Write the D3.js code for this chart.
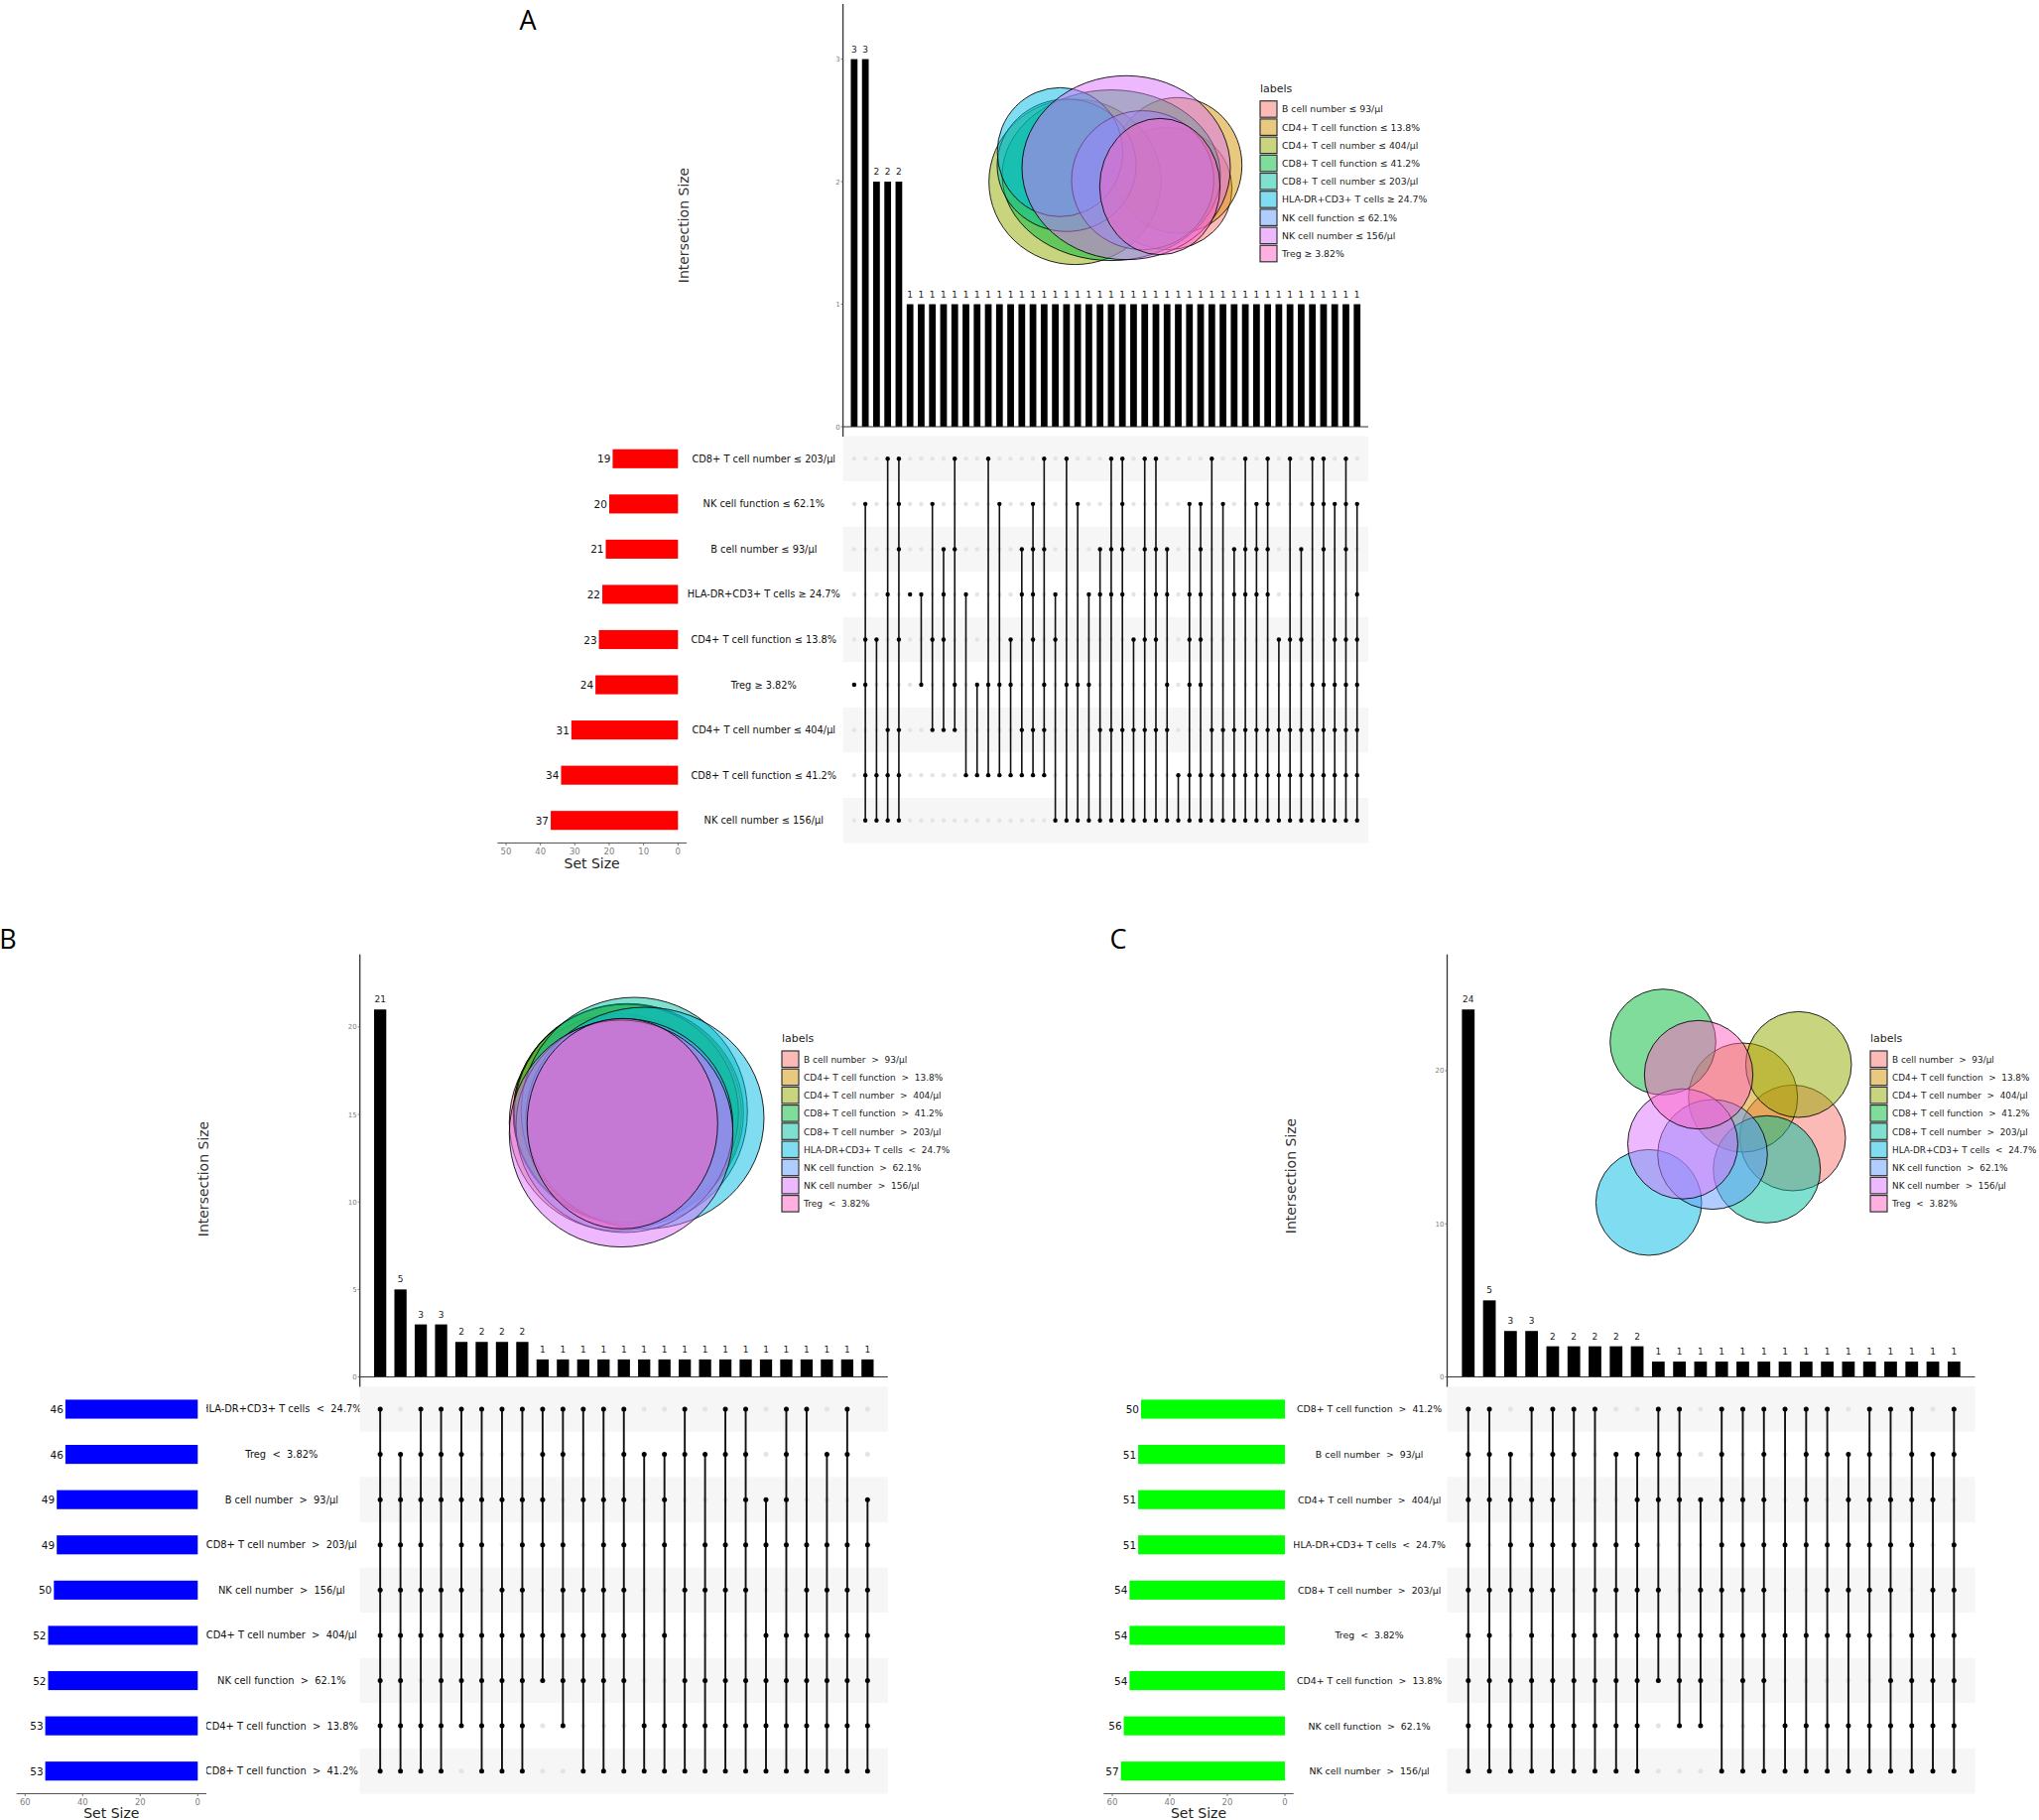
<!DOCTYPE html>
<html>
<head>
<meta charset="utf-8">
<script src="https://cdn.jsdelivr.net/npm/d3@7"></script>
<style>
  body { margin: 0; background: #fff; }
  svg text { font-family: "DejaVu Sans", sans-serif; }
  .pre { white-space: pre; }
</style>
</head>
<body>
<div id="chart"></div>
<script>
// ---------------- data ----------------

// Panel A : matrix rows top -> bottom
const setsA = ["CD8+ T cell number ≤ 203/μl", "NK cell function ≤ 62.1%", "B cell number ≤ 93/μl",
  "HLA-DR+CD3+ T cells ≥ 24.7%", "CD4+ T cell function ≤ 13.8%", "Treg ≥ 3.82%",
  "CD4+ T cell number ≤ 404/μl", "CD8+ T cell function ≤ 41.2%", "NK cell number ≤ 156/μl"]
const sizesA = [19, 20, 21, 22, 23, 24, 31, 34, 37]
const countsA = [3, 3, 2, 2, 2, 1, 1, 1, 1, 1, 1, 1, 1, 1, 1, 1, 1, 1, 1, 1, 1, 1, 1,
  1, 1, 1, 1, 1, 1, 1, 1, 1, 1, 1, 1, 1, 1, 1, 1, 1, 1, 1, 1, 1, 1, 1]
// row indices (into setsA) of each intersection
const membersA = [[5], [1,4,5,7,8], [4,7,8], [0,3,6,7,8], [0,1,2,4,6,7,8], [3], [3,5], [1,4,6],
  [2,3,4,6], [0,2,5,6], [3,7], [5,7], [0,5,7], [1,5,7], [4,5,7], [2,3,6,7], [1,2,3,4,6,7],
  [0,2,5,6,7], [3,4,8], [0,5,8], [1,5,8], [3,5,8], [2,3,6,8], [0,2,3,6,8], [0,1,2,3,6,8],
  [4,6,8], [0,2,4,6,8], [0,2,3,4,6,8], [2,3,5,6,8], [7,8], [1,3,4,5,7,8], [1,2,3,4,5,7,8],
  [0,6,7,8], [1,6,7,8], [2,3,6,7,8], [0,2,3,6,7,8], [1,2,3,6,7,8], [0,1,2,3,6,7,8],
  [4,6,7,8], [0,4,6,7,8], [2,4,6,7,8], [0,1,5,6,7,8], [0,1,2,5,6,7,8], [1,4,5,6,7,8],
  [0,1,2,4,5,6,7,8], [1,3,4,5,6,7,8]]

// Panel B
const setsB = ["HLA-DR+CD3+ T cells  <  24.7%", "Treg  <  3.82%", "B cell number  >  93/μl",
  "CD8+ T cell number  >  203/μl", "NK cell number  >  156/μl", "CD4+ T cell number  >  404/μl",
  "NK cell function  >  62.1%", "CD4+ T cell function  >  13.8%", "CD8+ T cell function  >  41.2%"]
const sizesB = [46, 46, 49, 49, 50, 52, 52, 53, 53]
const countsB = [21, 5, 3, 3, 2, 2, 2, 2, 1, 1, 1, 1, 1, 1, 1, 1, 1, 1, 1, 1, 1, 1, 1, 1, 1]
const membersB = [[0,1,2,3,4,5,6,7,8], [1,2,3,4,5,6,7,8], [0,1,2,3,4,5,7,8], [0,1,2,4,5,6,7,8],
  [0,1,2,3,4,5,6,7], [0,2,3,5,6,7,8], [0,2,4,5,6,7,8], [0,2,3,4,5,6,7,8], [0,1,2,3,5,6],
  [0,1,3,4,5,6,7], [0,2,4,5,6,8], [0,2,3,4,5,6,8], [0,1,2,3,4,5,6,8], [1,7,8], [1,2,3,5,7,8],
  [0,1,4,6,7,8], [1,3,4,6,7,8], [0,1,3,4,6,7,8], [0,1,2,3,4,6,7,8], [2,3,5,6,7,8],
  [0,1,2,3,5,6,7,8], [0,3,4,5,6,7,8], [1,3,4,5,6,7,8], [0,1,3,4,5,6,7,8], [2,3,4,5,6,7,8]]

// Panel C
const setsC = ["CD8+ T cell function  >  41.2%", "B cell number  >  93/μl", "CD4+ T cell number  >  404/μl",
  "HLA-DR+CD3+ T cells  <  24.7%", "CD8+ T cell number  >  203/μl", "Treg  <  3.82%",
  "CD4+ T cell function  >  13.8%", "NK cell function  >  62.1%", "NK cell number  >  156/μl"]
const sizesC = [50, 51, 51, 51, 54, 54, 54, 56, 57]
const countsC = [24, 5, 3, 3, 2, 2, 2, 2, 2, 1, 1, 1, 1, 1, 1, 1, 1, 1, 1, 1, 1, 1, 1, 1]
const membersC = [[0,1,2,3,4,5,6,7,8], [0,1,2,4,5,6,7,8], [1,2,3,4,6,7,8], [0,2,3,4,5,6,7,8],
  [0,1,2,3,4,6,7,8], [0,1,3,5,6,7,8], [0,3,4,5,6,7,8], [1,3,4,5,6,7,8], [1,2,3,4,5,6,7,8],
  [0,1,2,4,5,6], [0,1,2,5,6,7], [2,4,5,6,7], [0,1,2,3,4,5,8], [0,2,3,4,5,6,8], [0,1,2,3,4,5,6,8],
  [0,3,5,7,8], [0,1,2,3,5,7,8], [0,1,3,4,5,7,8], [1,2,3,4,5,7,8], [0,1,2,3,4,5,7,8],
  [0,2,3,4,6,7,8], [0,1,2,3,5,6,7,8], [1,2,4,5,6,7,8], [0,1,3,4,5,6,7,8]]

// venn legends (alphabetical, like the fit output)
const legendA = ["B cell number ≤ 93/μl", "CD4+ T cell function ≤ 13.8%", "CD4+ T cell number ≤ 404/μl",
  "CD8+ T cell function ≤ 41.2%", "CD8+ T cell number ≤ 203/μl", "HLA-DR+CD3+ T cells ≥ 24.7%",
  "NK cell function ≤ 62.1%", "NK cell number ≤ 156/μl", "Treg ≥ 3.82%"]
const legendBC = ["B cell number  >  93/μl", "CD4+ T cell function  >  13.8%", "CD4+ T cell number  >  404/μl",
  "CD8+ T cell function  >  41.2%", "CD8+ T cell number  >  203/μl", "HLA-DR+CD3+ T cells  <  24.7%",
  "NK cell function  >  62.1%", "NK cell number  >  156/μl", "Treg  <  3.82%"]

// euler fits: [x, y, a, b] in fit units, same order as legends
const vennA = [[18.0, 11.37, 6.5, 6.17], [19.0, 9.03, 6.5, 6.83], [8.67, 10.7, 8.67, 8.33],
  [12.33, 10.03, 11.0, 8.6], [7.83, 9.03, 7.0, 6.67], [7.17, 7.7, 6.33, 6.5],
  [15.5, 10.53, 7.17, 7.0], [13.83, 9.27, 10.5, 9.27], [17.23, 11.17, 6.07, 6.87]]
const vennB = [[11.0, 12.6, 11.0, 10.93], [11.9, 11.73, 11.5, 11.1], [12.0, 11.67, 11.6, 11.0],
  [11.8, 11.7, 11.3, 11.0], [12.6, 11.5, 11.4, 11.5], [13.67, 12.17, 12.0, 11.17],
  [11.6, 12.93, 10.93, 10.77], [11.27, 13.73, 11.27, 11.43], [11.4, 12.73, 9.6, 10.6]]
const vennC = [[19.87, 15.07, 5.33, 5.33], [14.87, 11.0, 5.5, 5.5], [20.47, 7.67, 5.33, 5.33],
  [6.8, 5.4, 5.33, 5.33], [17.27, 18.23, 5.4, 5.4], [5.37, 21.57, 5.33, 5.33],
  [11.8, 16.73, 5.53, 5.53], [8.8, 15.67, 5.55, 5.55], [10.4, 8.7, 5.47, 5.47]]

const hue = ["#F8766D", "#D39200", "#93AA00", "#00BA38", "#00C19F", "#00B9E3", "#619CFF", "#DB72FB", "#FF61C3"]

// ---------------- drawing ----------------
const svg = d3.select("#chart").append("svg")
  .attr("width", 2055).attr("height", 1834)
  .style("background", "#fff")

let clipId = 0

function upset(o) {
  const g = svg.append("g")
  const n = o.counts.length

  const x = d3.scalePoint().domain(d3.range(n)).range([o.left, o.right]).padding(1)
  const y = d3.scaleLinear().domain([0, d3.max(o.counts) * 1.15]).range([o.base, o.top])
  const row = d3.scalePoint().domain(d3.range(o.sets.length)).range([o.mTop, o.mBottom]).padding(0.5)
  const bw = x.step() * 0.6

  // matrix shading
  g.selectAll("rect.band").data(o.sets).join("rect")
    .attr("x", o.left).attr("width", o.right - o.left)
    .attr("y", (d, i) => row(i) - row.step() / 2).attr("height", row.step())
    .attr("fill", (d, i) => i % 2 ? "#ffffff" : "#f6f6f6")

  // intersection bars
  g.selectAll("rect.bar").data(o.counts).join("rect")
    .attr("x", (d, i) => x(i) - bw / 2).attr("width", bw)
    .attr("y", d => y(d)).attr("height", d => o.base - y(d))
    .attr("fill", "#000")

  g.selectAll("text.cnt").data(o.counts).join("text")
    .attr("x", (d, i) => x(i)).attr("y", d => y(d) - 7)
    .attr("text-anchor", "middle").attr("font-size", o.cntFont).attr("fill", "#222")
    .text(d => d)

  // y axis
  g.append("line").attr("x1", o.left).attr("x2", o.left).attr("y1", o.top).attr("y2", o.base + 10)
    .attr("stroke", "#333").attr("stroke-width", 1.3)
  g.append("line").attr("x1", o.left).attr("x2", o.right).attr("y1", o.base).attr("y2", o.base)
    .attr("stroke", "#333").attr("stroke-width", 1)
  g.selectAll("line.tk").data(o.ticks).join("line")
    .attr("x1", o.left - 2).attr("x2", o.left).attr("y1", d => y(d)).attr("y2", d => y(d))
    .attr("stroke", "#555").attr("stroke-width", 0.8)
  g.selectAll("text.tk").data(o.ticks).join("text")
    .attr("x", o.left - 3).attr("y", d => y(d) + 2.5)
    .attr("text-anchor", "end").attr("font-size", 7).attr("fill", "#808080")
    .text(d => d)

  g.append("text")
    .attr("transform", `translate(${o.ix[0]},${o.ix[1]}) rotate(-90)`)
    .attr("text-anchor", "middle").attr("font-size", 14).attr("fill", "#333")
    .attr("dy", "0.35em")
    .text("Intersection Size")

  // matrix dots
  const cells = []
  o.members.forEach((m, i) => o.sets.forEach((s, r) => cells.push({ i, r, on: m.includes(r) })))
  g.selectAll("circle.off").data(cells.filter(d => !d.on)).join("circle")
    .attr("cx", d => x(d.i)).attr("cy", d => row(d.r)).attr("r", o.dotR)
    .attr("fill", "#e4e4e4")
  g.selectAll("line.link").data(o.members.map((m, i) => ({ i, lo: d3.min(m), hi: d3.max(m) })).filter(d => d.hi > d.lo))
    .join("line")
    .attr("x1", d => x(d.i)).attr("x2", d => x(d.i))
    .attr("y1", d => row(d.lo)).attr("y2", d => row(d.hi))
    .attr("stroke", "#111").attr("stroke-width", o.lineW)
  g.selectAll("circle.on").data(cells.filter(d => d.on)).join("circle")
    .attr("cx", d => x(d.i)).attr("cy", d => row(d.r)).attr("r", o.dotR)
    .attr("fill", "#000")

  // set size bars
  const sx = d3.scaleLinear().domain([0, o.sMax]).range(o.sRange)
  const bh = row.step() * 0.42
  g.selectAll("rect.set").data(o.sizes).join("rect")
    .attr("x", d => sx(d)).attr("width", d => sx(0) - sx(d))
    .attr("y", (d, i) => row(i) - bh / 2).attr("height", bh)
    .attr("fill", o.color)
  g.selectAll("text.set").data(o.sizes).join("text")
    .attr("x", d => sx(d) - 2).attr("y", (d, i) => row(i) + 4)
    .attr("text-anchor", "end").attr("font-size", 10.5).attr("fill", "#111")
    .text(d => d)

  const ay = o.mBottom
  g.append("line")
    .attr("x1", sx(o.sMax * 1.05)).attr("x2", sx(-o.sMax * 0.05)).attr("y1", ay).attr("y2", ay)
    .attr("stroke", "#555").attr("stroke-width", 1.2)
  g.selectAll("line.stk").data(o.sTicks).join("line")
    .attr("x1", d => sx(d)).attr("x2", d => sx(d)).attr("y1", ay).attr("y2", ay + 2.5)
    .attr("stroke", "#555").attr("stroke-width", 0.8)
  g.selectAll("text.stk").data(o.sTicks).join("text")
    .attr("x", d => sx(d)).attr("y", ay + 11)
    .attr("text-anchor", "middle").attr("font-size", 8.5).attr("fill", "#808080")
    .text(d => d)
  g.append("text")
    .attr("x", (sx(0) + sx(o.sMax)) / 2).attr("y", ay + o.ssDy)
    .attr("text-anchor", "middle").attr("font-size", 14).attr("fill", "#222")
    .text("Set Size")

  // set names, clipped to the gap between bars and matrix
  const cid = "clip" + (clipId++)
  svg.append("clipPath").attr("id", cid).append("rect")
    .attr("x", sx(-o.sMax * 0.05)).attr("width", o.left - sx(-o.sMax * 0.05))
    .attr("y", o.mTop).attr("height", o.mBottom - o.mTop)
  g.append("g").attr("clip-path", `url(#${cid})`)
    .selectAll("text").data(o.sets).join("text")
    .attr("class", "pre")
    .attr("x", (sx(-o.sMax * 0.05) + o.left) / 2 + o.labelShift).attr("y", (d, i) => row(i) + 3.5)
    .attr("text-anchor", "middle").attr("font-size", o.labelFont).attr("fill", "#111")
    .text(d => d)

  // panel letter
  svg.append("text").attr("x", o.letter[0]).attr("y", o.letter[1])
    .attr("text-anchor", "middle").attr("font-size", 27)
    .style("font-family", "'Open Sans', sans-serif").attr("fill", "#000")
    .text(o.name)
}

function venn(o) {
  const g = svg.append("g")
  const vx = d3.scaleLinear().domain([0, 1]).range([o.x0, o.x0 + 10])
  const vy = d3.scaleLinear().domain([0, 1]).range([o.y0, o.y0 + 10])
  const k = vx(1) - vx(0)
  const color = d3.scaleOrdinal().domain(o.labels).range(hue)

  g.selectAll("ellipse").data(o.fit).join("ellipse")
    .attr("cx", d => vx(d[0])).attr("cy", d => vy(d[1]))
    .attr("rx", d => d[2] * k).attr("ry", d => d[3] * k)
    .attr("fill", (d, i) => color(o.labels[i])).attr("fill-opacity", 0.5)
    .attr("stroke", "#000").attr("stroke-width", 1).attr("stroke-opacity", 0.85)

  // legend
  const lg = g.append("g").attr("transform", `translate(${o.lx},${o.ly})`)
  lg.append("text").attr("x", 0).attr("y", -9).attr("font-size", 11).attr("fill", "#222").text("labels")
  const ly = d3.scaleBand().domain(o.labels).range([0, 18.2 * o.labels.length])
  lg.selectAll("rect").data(o.labels).join("rect")
    .attr("x", 0).attr("y", d => ly(d)).attr("width", 17).attr("height", 16.5)
    .attr("fill", d => color(d)).attr("fill-opacity", 0.5)
    .attr("stroke", "#333").attr("stroke-width", 1.2)
  lg.selectAll("text.lab").data(o.labels).join("text")
    .attr("class", "pre")
    .attr("x", 22).attr("y", d => ly(d) + 11.8)
    .attr("font-size", o.font).attr("fill", "#222")
    .text(d => d)
}

upset({ name: "A", letter: [532, 30], sets: setsA, sizes: sizesA, counts: countsA, members: membersA,
  left: 849.6, right: 1379, top: 4, base: 430, mTop: 439.5, mBottom: 849.5, ticks: [0, 1, 2, 3],
  cntFont: 9, dotR: 2.2, lineW: 1.6, sMax: 50, sRange: [683.3, 510], sTicks: [0, 10, 20, 30, 40, 50],
  ssDy: 25, labelFont: 9.8, labelShift: -1, color: "#ff0000", ix: [689, 227] })

upset({ name: "B", letter: [8, 956], sets: setsB, sizes: sizesB, counts: countsB, members: membersB,
  left: 362.7, right: 894.8, top: 961.7, base: 1387.5, mTop: 1397.2, mBottom: 1807.5, ticks: [0, 5, 10, 15, 20],
  cntFont: 9, dotR: 2.5, lineW: 1.9, sMax: 60, sRange: [199.3, 25.3], sTicks: [0, 20, 40, 60],
  ssDy: 24, labelFont: 9.9, labelShift: -1.5, color: "#0000ff", ix: [205, 1188] })

upset({ name: "C", letter: [1127, 956], sets: setsC, sizes: sizesC, counts: countsC, members: membersC,
  left: 1458.5, right: 1990.6, top: 961.7, base: 1387.5, mTop: 1397.2, mBottom: 1807.5, ticks: [0, 10, 20],
  cntFont: 9, dotR: 2.5, lineW: 1.9, sMax: 60, sRange: [1295, 1121], sTicks: [0, 20, 40, 60],
  ssDy: 24, labelFont: 9.4, labelShift: -1, color: "#00ff00", ix: [1300.7, 1185] })

venn({ fit: vennA, labels: legendA, x0: 996.7, y0: 76.3, lx: 1270, ly: 101.7, font: 9.3 })
venn({ fit: vennB, labels: legendBC, x0: 513.3, y0: 1005, lx: 788, ly: 1059, font: 9.0 })
venn({ fit: vennC, labels: legendBC, x0: 1608, y0: 996, lx: 1885, ly: 1059, font: 8.9 })
</script>
</body>
</html>
